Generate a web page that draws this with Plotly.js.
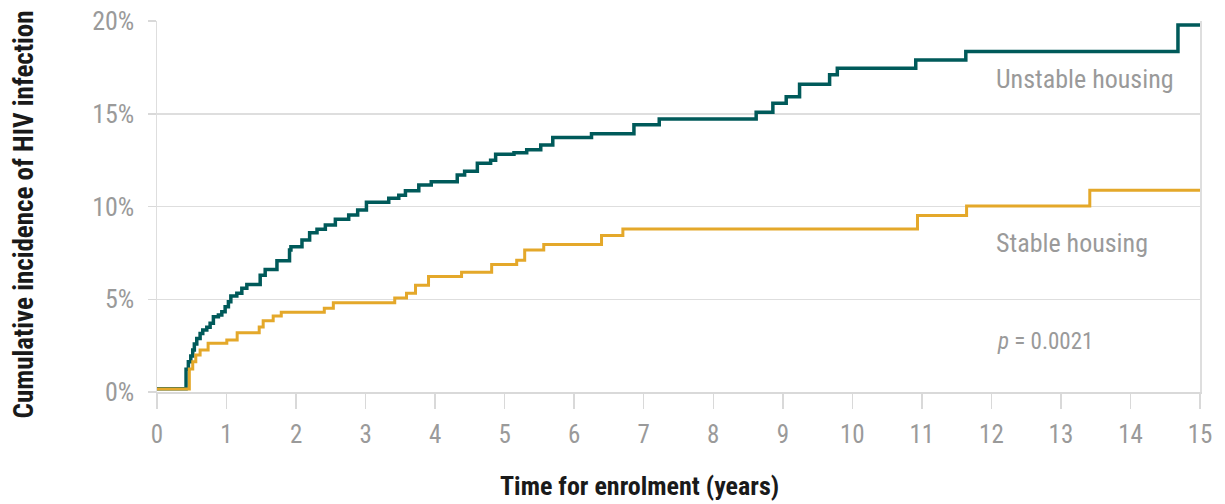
<!DOCTYPE html>
<html>
<head>
<meta charset="utf-8">
<script src="https://cdn.plot.ly/plotly-3.0.1.min.js"></script>
<style>html,body{margin:0;padding:0;background:#fff;}#chart{width:1225px;height:504px;}</style>
</head>
<body>
<div id="chart"></div>
<script>
// Unstable housing: step times (years) and cumulative incidence (%)
var unstableTime = [0, 0.418, 0.451, 0.486, 0.514, 0.537, 0.572, 0.62, 0.658, 0.716, 0.764, 0.811, 0.883, 0.932, 0.98, 1.027, 1.062, 1.148, 1.22, 1.292, 1.484, 1.556, 1.725, 1.906, 1.926, 2.085, 2.195, 2.301, 2.421, 2.565, 2.757, 2.886, 3.012, 3.333, 3.477, 3.573, 3.765, 3.944, 4.318, 4.424, 4.607, 4.798, 4.870, 5.134, 5.317, 5.519, 5.692, 6.249, 6.859, 7.223, 8.617, 8.857, 9.049, 9.241, 9.673, 9.784, 10.912, 11.632, 14.683, 15];
var unstableValue = [0.18, 1.22, 1.63, 1.94, 2.26, 2.59, 2.89, 3.16, 3.34, 3.49, 3.70, 4.06, 4.15, 4.33, 4.60, 4.87, 5.18, 5.32, 5.59, 5.80, 6.30, 6.61, 7.08, 7.65, 7.83, 8.19, 8.59, 8.77, 9.0, 9.31, 9.54, 9.81, 10.23, 10.44, 10.60, 10.85, 11.16, 11.34, 11.70, 11.90, 12.33, 12.50, 12.81, 12.90, 13.06, 13.32, 13.72, 13.92, 14.41, 14.72, 15.08, 15.56, 15.92, 16.59, 17.10, 17.45, 17.90, 18.35, 19.78, 19.78];

// Stable housing
var stableTime = [0, 0.465, 0.514, 0.558, 0.62, 0.735, 1.004, 1.153, 1.470, 1.527, 1.671, 1.787, 2.406, 2.536, 3.419, 3.588, 3.718, 3.905, 4.380, 4.813, 5.173, 5.288, 5.562, 6.393, 6.700, 10.937, 11.643, 13.415, 15];
var stableValue = [0.16, 1.24, 1.63, 1.99, 2.26, 2.63, 2.80, 3.20, 3.50, 3.84, 4.10, 4.30, 4.51, 4.81, 5.07, 5.32, 5.75, 6.22, 6.45, 6.87, 7.10, 7.65, 7.95, 8.44, 8.79, 9.52, 10.03, 10.87, 10.87];

var xTicks = [0,1,2,3,4,5,6,7,8,9,10,11,12,13,14,15];
var yTicks = [0,5,10,15,20];
var yTickLabels = ['0%','5%','10%','15%','20%'];

var FONT = '"Roboto Condensed", "Roboto", sans-serif';
var GREY = '#9a9a9a';

var traces = [
  {x: unstableTime, y: unstableValue, mode: 'lines', line: {shape: 'hv', color: '#005a5a', width: 3.5}, name: 'Unstable housing', hoverinfo: 'skip'},
  {x: stableTime, y: stableValue, mode: 'lines', line: {shape: 'hv', color: '#e4a82a', width: 3}, name: 'Stable housing', hoverinfo: 'skip'}
];

var layout = {
  width: 1225, height: 504,
  margin: {l: 157, r: 25, t: 21, b: 112},
  paper_bgcolor: '#fff', plot_bgcolor: '#fff',
  showlegend: false,
  font: {family: FONT, color: GREY, size: 24},
  xaxis: {
    range: [0, 15], tickvals: xTicks, ticktext: xTicks.map(String),
    showgrid: false, zeroline: false,
    showline: true, linecolor: '#d9d9d9', linewidth: 1.5,
    ticks: 'outside', ticklen: 15, tickcolor: '#d9d9d9', tickwidth: 1.5,
    ticklabelstandoff: 4,
    tickfont: {family: FONT, size: 25, color: GREY},
    fixedrange: true
  },
  yaxis: {
    range: [0, 20], tickvals: yTicks, ticktext: yTickLabels,
    showgrid: true, gridcolor: '#dedede', gridwidth: 1.5,
    zeroline: false,
    showline: true, mirror: true, linecolor: '#dedede', linewidth: 1.5,
    ticks: 'outside', ticklen: 8, tickcolor: '#d9d9d9', tickwidth: 1.5,
    ticklabelstandoff: 8,
    tickfont: {family: FONT, size: 26, color: GREY},
    fixedrange: true
  },
  annotations: [
    {xref: 'x', yref: 'y', x: 14.66, y: 16.85, text: 'Unstable housing', showarrow: false, xanchor: 'right', yanchor: 'middle', font: {family: FONT, size: 26, color: GREY}},
    {xref: 'x', yref: 'y', x: 14.28, y: 8.05, text: 'Stable housing', showarrow: false, xanchor: 'right', yanchor: 'middle', font: {family: FONT, size: 26, color: GREY}},
    {xref: 'x', yref: 'y', x: 12.05, y: 2.7, text: '<i>p</i> = 0.0021', showarrow: false, xanchor: 'left', yanchor: 'middle', font: {family: FONT, size: 23, color: GREY}},
    {xref: 'paper', yref: 'paper', x: (639 - 157) / 1043, y: -0.25, yshift: -1, text: '<b>Time for enrolment (years)</b>', showarrow: false, xanchor: 'center', yanchor: 'middle', font: {family: FONT, size: 26, color: '#1a1a1a'}},
    {xref: 'paper', yref: 'paper', x: 0, xshift: -134, y: 0.5, yshift: -8, text: '<b>Cumulative incidence of HIV infection</b>', textangle: -90, showarrow: false, xanchor: 'center', yanchor: 'middle', font: {family: FONT, size: 27, color: '#1a1a1a'}}
  ]
};

Plotly.newPlot('chart', traces, layout, {displayModeBar: false, staticPlot: true});
</script>
</body>
</html>
